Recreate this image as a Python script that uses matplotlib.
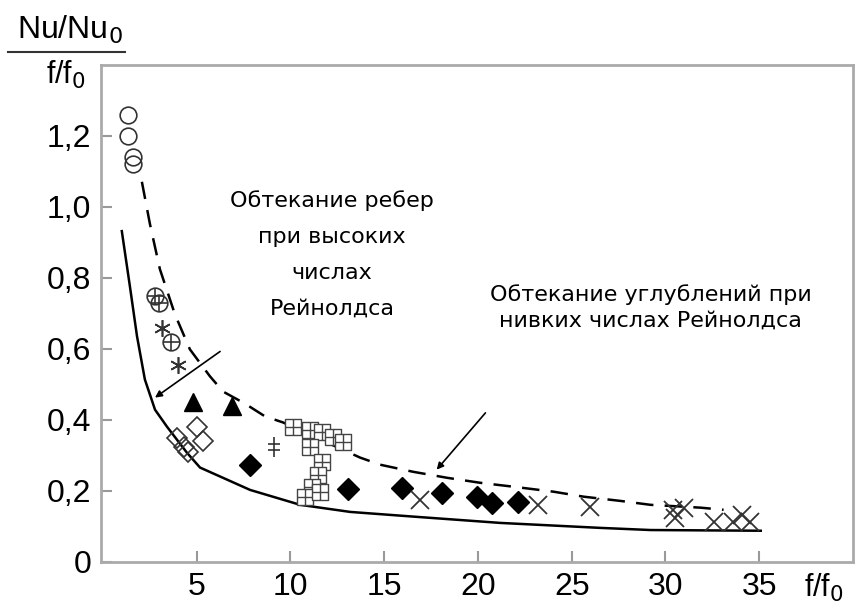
import matplotlib
matplotlib.use("Agg")
from matplotlib import pyplot as plt
from matplotlib.path import Path

# curves
dash_x = [2.08, 2.51, 3.04, 3.84, 4.64, 5.71, 6.41, 7.58, 8.65, 9.61, 11.59, 13.72,
          14.79, 16.55, 18.37, 20.13, 21.89, 24.03, 25.63, 27.60, 29.20, 31.87, 33.10]
dash_y = [1.071, 0.952, 0.825, 0.698, 0.599, 0.523, 0.480, 0.446, 0.410, 0.393, 0.345,
          0.294, 0.274, 0.254, 0.237, 0.223, 0.212, 0.198, 0.184, 0.172, 0.161, 0.153, 0.147]
solid_x = [1.01, 1.44, 1.82, 2.24, 2.78, 3.42, 4.48, 5.18, 7.85, 10.52, 13.19, 16.76,
           21.20, 26.54, 29.20, 35.08]
solid_y = [0.932, 0.777, 0.636, 0.514, 0.429, 0.381, 0.308, 0.266, 0.203, 0.161, 0.141,
           0.127, 0.110, 0.096, 0.090, 0.088]

# experimental points
circ_x = [1.33, 1.33, 1.6, 1.6]
circ_y = [1.26, 1.20, 1.14, 1.12]
oplus_x = [2.8, 3.0, 3.65]
oplus_y = [0.75, 0.73, 0.62]
ast_x = [3.15, 4.0]
ast_y = [0.66, 0.555]
tri_x = [4.8, 6.9]
tri_y = [0.45, 0.44]
odiam_x = [3.95, 4.3, 4.55, 5.0, 5.35]
odiam_y = [0.35, 0.325, 0.31, 0.38, 0.34]
dag_x = [9.1]
dag_y = [0.325]
sq_x = [10.14, 11.05, 11.69, 12.28, 12.81, 11.05, 11.69, 11.48, 11.16, 10.78, 11.59]
sq_y = [0.381, 0.373, 0.367, 0.353, 0.339, 0.325, 0.282, 0.246, 0.212, 0.184, 0.198]
fdiam_x = [7.85, 13.05, 15.95, 18.1, 19.95, 20.75, 22.15]
fdiam_y = [0.274, 0.206, 0.209, 0.195, 0.184, 0.167, 0.169]
cross_x = [16.9, 23.2, 26.0, 30.4, 30.5, 31.0, 32.6, 33.6, 34.1, 34.5]
cross_y = [0.175, 0.16, 0.155, 0.147, 0.124, 0.153, 0.113, 0.113, 0.133, 0.113]

xticks = [5, 10, 15, 20, 25, 30, 35]
yticks = [0, 0.2, 0.4, 0.6, 0.8, 1.0, 1.2]
ytick_labels = ["0", "0,2", "0,4", "0,6", "0,8", "1,0", "1,2"]

text_ribs = "Обтекание ребер\nпри высоких\nчислах\nРейнолдса"
text_dimples = "Обтекание углублений при\nнивких числах Рейнолдса"

M, L = Path.MOVETO, Path.LINETO
grid_square = Path(
    [(-1, -1), (1, -1), (1, 1), (-1, 1), (-1, -1), (0, -1), (0, 1), (-1, 0), (1, 0)],
    [M, L, L, L, L, M, L, M, L])
double_cross = Path(
    [(0, -1), (0, 1), (-0.6, 0.3), (0.6, 0.3), (-0.6, -0.3), (0.6, -0.3)],
    [M, L, M, L, M, L])


def main():
    plt.rcParams['font.family'] = ['Liberation Sans', 'DejaVu Sans']
    fig = plt.figure(figsize=(8.61, 6.08), dpi=100)
    ax = fig.add_axes([0.1173, 0.0757, 0.8734, 0.8174])

    ax.plot(dash_x, dash_y, color='black', lw=1.8, dashes=(7, 4.5))
    ax.plot(solid_x, solid_y, color='black', lw=1.8)

    ax.plot(circ_x, circ_y, 'o', ms=12, mfc='none', mec='#333', mew=1.2)
    ax.plot(oplus_x, oplus_y, 'o', ms=12, mfc='none', mec='#333', mew=1.2)
    ax.plot(oplus_x, oplus_y, '+', ms=12, mec='#333', mew=1.2)
    ax.plot(ast_x, ast_y, marker=(6, 2, 0), ls='none', ms=12, mec='#333', mew=1.2)
    ax.plot(tri_x, tri_y, '^', ms=13, color='black')
    ax.plot(odiam_x, odiam_y, 'D', ms=10, mfc='none', mec='#333', mew=1.2)
    ax.plot(dag_x, dag_y, marker=double_cross, ls='none', ms=14, mec='#333', mew=1.2)
    ax.plot(sq_x, sq_y, marker=grid_square, ls='none', ms=11, mfc='white',
            mec='#444', mew=1.0)
    ax.plot(fdiam_x, fdiam_y, 'D', ms=11, color='black')
    ax.plot(cross_x, cross_y, 'x', ms=13, mec='#333', mew=1.3)

    ax.annotate("", xy=(2.78, 0.463), xytext=(6.25, 0.593),
                arrowprops=dict(arrowstyle='-|>', color='black', lw=1.2,
                                mutation_scale=10, shrinkA=0, shrinkB=0))
    ax.annotate("", xy=(17.8, 0.26), xytext=(20.4, 0.42),
                arrowprops=dict(arrowstyle='-|>', color='black', lw=1.2,
                                mutation_scale=10, shrinkA=0, shrinkB=0))

    ax.text(12.23, 0.867, text_ribs, ha='center', va='center', fontsize=16,
            linespacing=2.0, family='DejaVu Sans')
    ax.text(29.2, 0.717, text_dimples, ha='center', va='center', fontsize=16,
            linespacing=1.4, family='DejaVu Sans')

    ax.set_xlim(-0.1, 40)
    ax.set_ylim(0, 1.40)
    ax.set_xticks(xticks)
    ax.set_yticks(yticks, ytick_labels)
    ax.tick_params(direction='in', length=8, width=1.5, color='#999',
                   labelsize=23, pad=7)
    ax.tick_params(axis='x', pad=7)
    for s in ax.spines.values():
        s.set_color('#aaa')
        s.set_linewidth(2)

    fig.text(70 / 861, 1 - 30 / 608, "Nu/Nu$_0$", ha='center', va='center', fontsize=23)
    fig.add_artist(plt.Line2D([8 / 861, 125 / 861], [1 - 52 / 608, 1 - 52 / 608],
                              color='#333', lw=1.5))
    fig.text(66 / 861, 1 - 75 / 608, "f/f$_0$", ha='center', va='center', fontsize=22)
    fig.text(824 / 861, 1 - 588 / 608, "f/f$_0$", ha='center', va='center', fontsize=22)

    fig.savefig("out.png", dpi=100)


if __name__ == "__main__":
    main()
